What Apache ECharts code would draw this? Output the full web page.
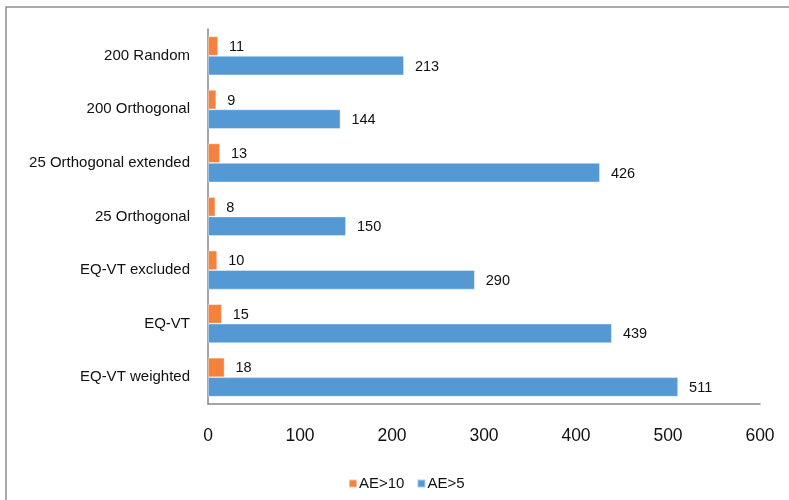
<!DOCTYPE html>
<html>
<head>
<meta charset="utf-8">
<script src="https://cdn.jsdelivr.net/npm/echarts@6/dist/echarts.min.js"></script>
<style>
  html, body { margin: 0; padding: 0; background: #fff; }
  #chart { width: 789px; height: 500px; }
</style>
</head>
<body>
<div id="chart"></div>
<script>
// Categories listed bottom-to-top along the vertical axis
const categories = [
  'EQ-VT weighted',
  'EQ-VT',
  'EQ-VT excluded',
  '25 Orthogonal',
  '25 Orthogonal extended',
  '200 Orthogonal',
  '200 Random'
];
const ae10 = [18, 15, 10, 8, 13, 9, 11];
const ae5 = [511, 439, 290, 150, 426, 144, 213];
const seriesNames = ['AE>10', 'AE>5'];
const xTicks = { min: 0, max: 600, interval: 100 };

const FONT = '"Liberation Sans", Arial, sans-serif';
const ORANGE = '#F4823C';
const BLUE = '#5498D4';
const AXIS = '#878787';

const chart = echarts.init(document.getElementById('chart'), null, { renderer: 'canvas' });

const valueLabel = {
  show: true,
  position: 'right',
  distance: 11,
  offset: [0, 1],
  color: '#111',
  fontSize: 14.5,
  fontFamily: FONT
};

chart.setOption({
  animation: false,
  backgroundColor: '#fff',
  graphic: [{
    type: 'rect',
    shape: { x: 6, y: 7, width: 900, height: 900 },
    style: { fill: 'none', stroke: '#8f8f8f', lineWidth: 1.5 },
    silent: true
  }],
  grid: { left: 208, right: 29, top: 29, bottom: 96, containLabel: false },
  legend: {
    data: seriesNames,
    left: 343,
    top: 471,
    itemWidth: 8,
    itemHeight: 8,
    itemGap: 12,
    icon: 'rect',
    textStyle: { fontSize: 15, fontFamily: FONT, color: '#111', padding: [0, 0, 0, -3] }
  },
  xAxis: {
    type: 'value',
    min: xTicks.min,
    max: xTicks.max,
    interval: xTicks.interval,
    axisLine: { show: true, lineStyle: { color: AXIS, width: 1.5 } },
    axisTick: { show: false },
    splitLine: { show: false },
    axisLabel: { fontSize: 17.5, fontFamily: FONT, color: '#111', margin: 23 }
  },
  yAxis: {
    type: 'category',
    data: categories,
    axisLine: { show: true, lineStyle: { color: AXIS, width: 1.5 } },
    axisTick: { show: false },
    axisLabel: { fontSize: 15, fontFamily: FONT, color: '#111', margin: 18 }
  },
  // First series sits at the top of each category band
  series: [
    {
      name: seriesNames[0],
      type: 'bar',
      data: ae10,
      barWidth: 19.5,
      barGap: '0%',
      itemStyle: { color: ORANGE, borderColor: 'rgba(255,255,255,0.5)', borderWidth: 0.8 },
      label: valueLabel
    },
    {
      name: seriesNames[1],
      type: 'bar',
      data: ae5,
      barWidth: 19.5,
      barGap: '0%',
      itemStyle: { color: BLUE, borderColor: 'rgba(255,255,255,0.5)', borderWidth: 0.8 },
      label: valueLabel
    }
  ]
});
</script>
</body>
</html>
